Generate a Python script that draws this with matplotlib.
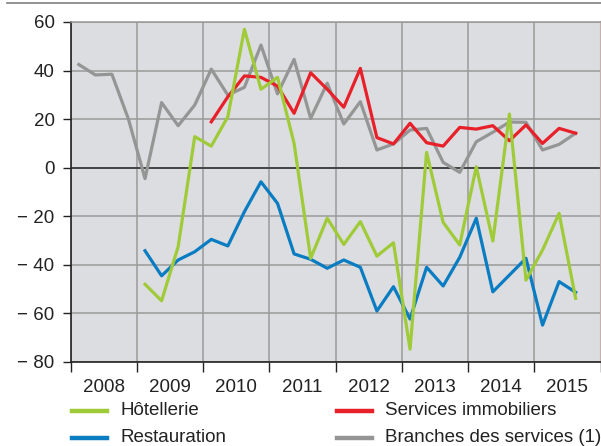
import matplotlib
matplotlib.use("Agg")
import matplotlib.pyplot as plt
from matplotlib.lines import Line2D
import numpy as np

plt.rcParams['font.family'] = ['Liberation Sans', 'DejaVu Sans']

# Quarterly data, first quarter of 2008 = index 0
years = [2008, 2009, 2010, 2011, 2012, 2013, 2014, 2015]
year_labels = ["2008", "2009", "2010", "2011", "2012", "2013", "2014", "2015"]

# Branches des services (1): 2008Q1 .. 2015Q3
branches_start = 0
branches = [42.5, 38.2, 38.5, 20, -4.5, 26.8, 17.3, 25.8,
            40.6, 29.9, 33.1, 50.5, 30.4, 44.6, 20.3, 34.8,
            18.0, 27.2, 7.3, 9.8, 15.5, 16.2, 2.2, -1.9,
            10.7, 14.6, 18.8, 18.7, 7.3, 9.6, 14.2]

# Services immobiliers: 2010Q1 .. 2015Q3
immo_start = 8
immo = [18.9, 29.2, 37.8, 37.2, 33.6, 22.4, 39.1, 32.3,
        24.9, 40.9, 12.4, 9.8, 18.3, 10.3, 8.9, 16.6,
        15.9, 17.3, 11.1, 17.6, 10.0, 16.2, 14.2]

# Hôtellerie: 2009Q1 .. 2015Q3
hotel_start = 4
hotel = [-48.0, -54.8, -32.5, 12.8, 8.9, 21.0, 57.0, 32.3,
         37.2, 10.0, -37.3, -20.8, -31.6, -22.2, -36.4, -30.9,
         -74.7, 6.3, -22.5, -31.8, 0.4, -30.2, 22.1, -46.3,
         -33.9, -18.8, -53.8]

# Restauration: 2009Q1 .. 2015Q3
resto_start = 4
resto = [-34.2, -44.5, -38.0, -34.6, -29.5, -32.2, -18.1, -5.8,
         -14.7, -35.5, -37.7, -41.4, -38.0, -41.0, -59.0, -49.0,
         -62.3, -41.0, -48.7, -36.9, -20.8, -51.1, -44.2, -37.3,
         -64.8, -46.9, -51.3]

labels = ["Hôtellerie", "Restauration", "Services immobiliers", "Branches des services (1)"]
colors = {"hotel": "#a0cb38", "resto": "#0a7cc2", "immo": "#e8202a", "branches": "#959595"}


def qx(start, n):
    return 2008 + (np.arange(start, start + n) + 0.5) / 4.0


W, H = 601, 446
fig = plt.figure(figsize=(W / 100, H / 100), dpi=100)

left, right, top, bottom = 70.5, 600.5, 22, 362
ax = fig.add_axes([left / W, 1 - bottom / H, (right - left) / W, (bottom - top) / H])
ax.set_facecolor("#dcdde0")

lw = 2.3
l_br, = ax.plot(qx(branches_start, len(branches)), branches, color=colors["branches"], lw=lw, zorder=3)
l_im, = ax.plot(qx(immo_start, len(immo)), immo, color=colors["immo"], lw=lw, zorder=4)
l_re, = ax.plot(qx(resto_start, len(resto)), resto, color=colors["resto"], lw=lw, zorder=4)
l_ho, = ax.plot(qx(hotel_start, len(hotel)), hotel, color=colors["hotel"], lw=lw, zorder=5)

ax.set_xlim(2008, 2016)
ax.set_ylim(-80, 60)

fs = 13.5
yt = np.arange(-80, 61, 20)
ax.set_yticks(yt)
ax.set_yticklabels([("\u2212 %d" % -v) if v < 0 else "%d" % v for v in yt], fontsize=fs, color="#222222")

ax.set_xticks(np.arange(2008, 2017))
ax.set_xticklabels([])
ax.set_xticks(np.array(years) + 0.5, minor=True)
ax.set_xticklabels(year_labels, minor=True, fontsize=fs, color="#222222")

ax.tick_params(axis="y", which="major", direction="out", length=6, width=1, pad=5.5, color="#222222")
ax.tick_params(axis="x", which="major", direction="out", length=7, width=1, color="#222222")
ax.tick_params(axis="x", which="minor", length=0, pad=12)

ax.grid(True, which="major", color="#9a9a9a", lw=1.1, zorder=1)
ax.set_axisbelow(True)
ax.axhline(0, color="#444444", lw=1.4, zorder=2)

for s in ["left", "bottom"]:
    ax.spines[s].set_color("#222222")
    ax.spines[s].set_linewidth(1.2)
ax.spines["top"].set_color("#9a9a9a")
ax.spines["top"].set_linewidth(1.1)
ax.spines["right"].set_color("#c4b0ac")
ax.spines["right"].set_linewidth(1.6)

# top rule
fig.add_artist(Line2D([7 / W, 1.0], [1 - 2.5 / H, 1 - 2.5 / H], color="#808080", lw=1.2))

# legend (manual placement)
entries = [(l_ho, labels[0], 72, 410.5), (l_re, labels[1], 72, 438),
           (l_im, labels[2], 337, 410.5), (l_br, labels[3], 337, 438)]
for line, lab, x0, y0 in entries:
    fig.add_artist(Line2D([x0 / W, (x0 + 35) / W], [1 - y0 / H, 1 - y0 / H],
                          color=line.get_color(), lw=3.2))
    fig.text((x0 + 48) / W, 1 - y0 / H, lab, fontsize=fs, color="#222222",
             va="center", ha="left")

fig.savefig("out.png", dpi=100)
